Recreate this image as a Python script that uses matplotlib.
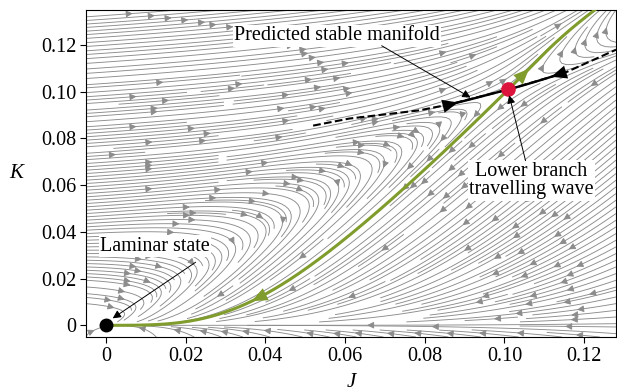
import numpy as np
import matplotlib
matplotlib.use('Agg')
import matplotlib.pyplot as plt

plt.rcParams['font.family'] = ['Liberation Serif', 'DejaVu Serif']

# fixed points (J, K)
laminar = [0.0, 0.0]
wave = [0.101, 0.101]

# predicted stable manifold
pred_J = [0.052, 0.061, 0.0735, 0.0785, 0.086, 0.101, 0.115, 0.128]
pred_K = [0.0855, 0.0885, 0.091, 0.092, 0.0945, 0.101, 0.108, 0.118]

ticks = [0, 0.02, 0.04, 0.06, 0.08, 0.10, 0.12]
tick_labels = ['0', '0.02', '0.04', '0.06', '0.08', '0.10', '0.12']

# labels: text, text centre, arrow tail, arrow head
labels = ['Predicted stable manifold', 'Lower branch\ntravelling wave', 'Laminar state']
label_pos = [(0.058, 0.124), (0.1068, 0.062), (0.0123, 0.0338)]
label_tail = [(0.0692, 0.1197), (0.1053, 0.0705), (0.0225, 0.027)]
label_head = [(0.0915, 0.0975), (0.1012, 0.0985), (0.0017, 0.003)]

J_lim = (-0.005, 0.128)
K_lim = (-0.005, 0.135)

# toy model: dJ/dt = a (K - J),  dK/dt = K h(J, K)
a_rate = 1.0
gain_K = 11.4      # dh/dK at the travelling wave
gain_J = 7.65      # -dh/dJ at the travelling wave
h_top = 0.12       # growth rate well above the K-nullcline
soft = 0.03
mu = 3.0           # extra decay when K << J
L0 = h_top - soft * np.log(np.exp(h_top / soft) - 1.0)


def field(J, K):
    Js, Ks = wave
    dJ = a_rate * (K * Js / Ks - J)
    L = L0 + gain_K * (K - Ks) - gain_J * (J - Js)
    h = h_top - soft * np.logaddexp(0.0, (h_top - L) / soft)
    D = np.minimum(np.maximum(J - K, 0.0) / np.maximum(J, 1e-4), 1.5)
    h = h - mu * D**2
    return dJ, a_rate * K * h


def rk4(p, sign, stop, dt=0.01, nmax=40000):
    pts = [p]
    for i in range(nmax):
        x, y = pts[-1]
        k1 = np.array(field(x, y))
        k2 = np.array(field(x + 0.5*dt*sign*k1[0], y + 0.5*dt*sign*k1[1]))
        k3 = np.array(field(x + 0.5*dt*sign*k2[0], y + 0.5*dt*sign*k2[1]))
        k4 = np.array(field(x + dt*sign*k3[0], y + dt*sign*k3[1]))
        q = pts[-1] + sign*dt*(k1 + 2*k2 + 2*k3 + k4)/6
        pts.append(q)
        if stop(q):
            break
    return np.array(pts)


# linearisation at the saddle
h = 1e-7
s = np.array(wave)
jac = np.zeros((2, 2))
for j in range(2):
    e = np.zeros(2); e[j] = h
    jac[:, j] = (np.array(field(*(s + e))) - np.array(field(*(s - e)))) / (2*h)
vals, vecs = np.linalg.eig(jac)
v_u = vecs[:, np.argmax(vals)]
v_s = vecs[:, np.argmin(vals)]
if v_u[0] < 0: v_u = -v_u
if v_s[0] < 0: v_s = -v_s

eps = 1e-5
unst_up = rk4(s + eps*v_u, 1, lambda q: q[1] > K_lim[1] or q[0] > J_lim[1])
unst_dn = rk4(s - eps*v_u, 1, lambda q: np.hypot(q[0], q[1]) < 3e-4)
stab_l = rk4(s - eps*v_s, -1, lambda q: q[0] < 0.086)
stab_r = rk4(s + eps*v_s, -1, lambda q: q[0] > 0.115)

fig = plt.figure(figsize=(6.17, 3.91), dpi=100)
ax = fig.add_axes([86/617, 1 - 337/391, 530/617, 327/391])

Jg = np.linspace(J_lim[0], J_lim[1], 300)
Kg = np.linspace(K_lim[0], K_lim[1], 300)
JJ, KK = np.meshgrid(Jg, Kg)
U, V = field(JJ, KK)
ax.streamplot(Jg, Kg, U, V, density=3.3, color='0.55', linewidth=0.65,
              arrowsize=1.0, zorder=1)

green = '#809c2c'
ax.plot(unst_up[:, 0], unst_up[:, 1], color=green, lw=2.2, zorder=3)
ax.plot(unst_dn[:, 0], unst_dn[:, 1], color=green, lw=2.2, zorder=3)
ax.plot(pred_J, pred_K, 'k--', lw=1.5, zorder=3)
ax.plot(stab_l[:, 0], stab_l[:, 1], 'k-', lw=1.7, zorder=4)
ax.plot(stab_r[:, 0], stab_r[:, 1], 'k-', lw=1.7, zorder=4)


def head_at(curve, Jpos, color, ms=16):
    i = int(np.argmin(np.abs(curve[:, 0] - Jpos)))
    j = min(i + 5, len(curve) - 1)
    ax.annotate('', xy=curve[j], xytext=curve[i],
                arrowprops=dict(arrowstyle='-|>,head_length=0.7,head_width=0.3',
                                color=color, lw=0, mutation_scale=ms,
                                shrinkA=0, shrinkB=0),
                zorder=5)


head_at(unst_up, 0.106, green)
head_at(unst_dn, 0.038, green)
head_at(stab_l[::-1], 0.088, 'k')
head_at(stab_r[::-1], 0.112, 'k')

ax.plot(*laminar, 'o', color='k', ms=9, zorder=6)
ax.plot(*wave, 'o', color='#dc143c', ms=9.5, zorder=6)

for txt, pos, tail, tip in zip(labels, label_pos, label_tail, label_head):
    ax.text(pos[0], pos[1], txt, ha='center', va='center', fontsize=14.5,
            linespacing=0.95, zorder=7,
            bbox=dict(facecolor='white', edgecolor='none', pad=1.0))
    ax.annotate('', xy=tip, xytext=tail,
                arrowprops=dict(arrowstyle='-|>', color='k', lw=0.7,
                                mutation_scale=12, shrinkA=0, shrinkB=0),
                zorder=8)

ax.set_xlim(*J_lim)
ax.set_ylim(*K_lim)
ax.set_xticks(ticks)
ax.set_xticklabels(tick_labels)
ax.set_yticks(ticks)
ax.set_yticklabels(tick_labels)
ax.tick_params(direction='out', length=4, width=0.8, labelsize=14.5, pad=3)
ax.set_xlabel('J', fontsize=15, fontstyle='italic', labelpad=5)
ax.set_ylabel('K', fontsize=15, fontstyle='italic', rotation=0, labelpad=18,
              va='center')

fig.savefig('out.png', dpi=100)
